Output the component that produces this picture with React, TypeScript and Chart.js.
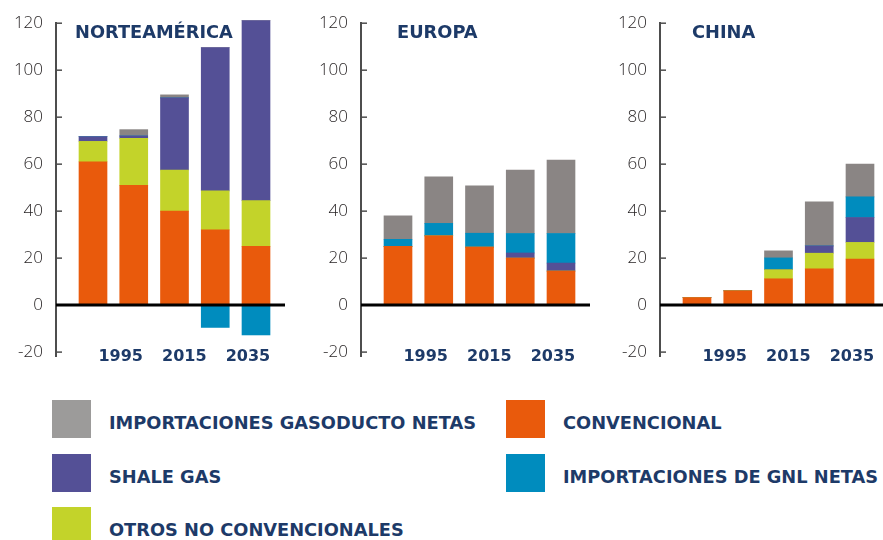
import React, { useEffect, useRef } from 'react';
import { Chart, registerables } from 'chart.js';

Chart.register(...registerables);

// ---- data ----
const periods = [0, 1, 2, 3, 4]; // bar positions (category index)
const yearTickLabels = [1995, 2015, 2035];
const valueTicks = [-20, 0, 20, 40, 60, 80, 100, 120];

const seriesNames = [
  'CONVENCIONAL',
  'OTROS NO CONVENCIONALES',
  'SHALE GAS',
  'IMPORTACIONES DE GNL NETAS',
  'IMPORTACIONES GASODUCTO NETAS',
];
const seriesColors = ['#E95A0C', '#C3D32A', '#545096', '#008CBE', '#8A8584'];

// Norteamérica
const naConvencional = [61, 51, 40, 32, 25];
const naOtros = [8.7, 20, 17.5, 16.6, 19.5];
const naShale = [2, 1, 30.7, 61, 76.6];
const naGnl = [0, 0, 0, -9.5, -12.7];
const naGasoducto = [0, 2.7, 1.3, 0, 0];

// Europa
const euConvencional = [25, 29.5, 24.7, 20, 14.5];
const euOtros = [0, 0, 0, 0, 0];
const euShale = [0, 0, 0, 2.2, 3.4];
const euGnl = [3, 5.3, 5.9, 8.3, 12.6];
const euGasoducto = [10, 19.8, 20.2, 27, 31.2];

// China
const cnConvencional = [3.2, 6.1, 11.2, 15.4, 19.6];
const cnOtros = [0, 0, 3.9, 6.7, 7.1];
const cnShale = [0, 0, 0, 3.1, 10.6];
const cnGnl = [0, 0, 5, 0, 8.8];
const cnGasoducto = [0, 0, 3, 18.8, 13.9];

// legend layout (rows, two columns)
const legendItems = [
  { name: 'IMPORTACIONES GASODUCTO NETAS', color: '#9C9B9A', col: 0, row: 0 },
  { name: 'CONVENCIONAL', color: '#E95A0C', col: 1, row: 0 },
  { name: 'SHALE GAS', color: '#545096', col: 0, row: 1 },
  { name: 'IMPORTACIONES DE GNL NETAS', color: '#008CBE', col: 1, row: 1 },
  { name: 'OTROS NO CONVENCIONALES', color: '#C3D32A', col: 0, row: 2 },
];

const NAVY = '#1D3A68';
const AXIS_GREY = '#4D4D4D';
const BAR_STEP = 40.75; // px per bar slot
const FIRST_BAR = 37; // px from axis to first bar centre
const PX_PER_YEAR = 3.18;
const YEAR_REF_OFFSET = 64.7; // px from axis to 1995 label
const CANVAS_H = 380;

type Panel = {
  title: string;
  values: number[][];
  left: number;
  width: number;
  axisX: number;
  titleDx: number;
};

const panels: Panel[] = [
  { title: 'NORTEAMÉRICA', values: [naConvencional, naOtros, naShale, naGnl, naGasoducto], left: 0, width: 300, axisX: 56, titleDx: 19 },
  { title: 'EUROPA', values: [euConvencional, euOtros, euShale, euGnl, euGasoducto], left: 300, width: 300, axisX: 61, titleDx: 36 },
  { title: 'CHINA', values: [cnConvencional, cnOtros, cnShale, cnGnl, cnGasoducto], left: 600, width: 283, axisX: 60, titleDx: 32 },
];

function PanelChart({ panel }: { panel: Panel }) {
  const ref = useRef<HTMLCanvasElement | null>(null);

  useEffect(() => {
    if (!ref.current) return;
    const plotW = Math.min(229, panel.width - panel.axisX);
    const padRight = panel.width - panel.axisX - plotW;
    const yearMin = 1995 - YEAR_REF_OFFSET / PX_PER_YEAR;

    const decor = {
      id: 'panelDecor',
      afterDatasetsDraw(chart: any) {
        const { ctx, chartArea, scales } = chart;
        const y = scales.y;
        const yr = scales.yr;
        ctx.save();
        // inward tick marks on the value axis
        ctx.strokeStyle = AXIS_GREY;
        ctx.lineWidth = 1.5;
        valueTicks.forEach((v) => {
          const py = y.getPixelForValue(v);
          ctx.beginPath();
          ctx.moveTo(chartArea.left, py);
          ctx.lineTo(chartArea.left + 6, py);
          ctx.stroke();
        });
        // zero line
        const y0 = y.getPixelForValue(0);
        ctx.strokeStyle = '#000000';
        ctx.lineWidth = 3;
        ctx.beginPath();
        ctx.moveTo(chartArea.left, y0);
        ctx.lineTo(chartArea.right, y0);
        ctx.stroke();
        // panel title
        ctx.fillStyle = NAVY;
        ctx.font = 'bold 17.8px "DejaVu Sans"';
        ctx.textBaseline = 'middle';
        ctx.textAlign = 'left';
        ctx.fillText(panel.title, chartArea.left + panel.titleDx, 33);
        // year tick labels, placed by the year scale
        ctx.font = 'bold 16px "DejaVu Sans"';
        ctx.textAlign = 'center';
        yearTickLabels.forEach((yv) => {
          ctx.fillText(String(yv), yr.getPixelForValue(yv), 357);
        });
        ctx.restore();
      },
    };

    const chart = new Chart(ref.current, {
      type: 'bar',
      data: {
        labels: periods,
        datasets: seriesNames.map((name, k) => ({
          label: name,
          data: panel.values[k],
          backgroundColor: seriesColors[k],
          borderWidth: 0,
          barThickness: 28,
          clip: false as any,
          xAxisID: 'x',
          yAxisID: 'y',
        })),
      },
      options: {
        animation: false,
        responsive: false,
        maintainAspectRatio: false,
        layout: { padding: { top: 21, right: padRight, left: 0, bottom: CANVAS_H - 357.75 } },
        plugins: { legend: { display: false }, tooltip: { enabled: false } },
        scales: {
          x: {
            type: 'linear',
            stacked: true,
            display: false,
            offset: false,
            min: -FIRST_BAR / BAR_STEP,
            max: (plotW - FIRST_BAR) / BAR_STEP,
          },
          yr: {
            type: 'linear',
            position: 'bottom',
            display: false,
            offset: false,
            grid: { offset: false },
            min: yearMin,
            max: yearMin + plotW / PX_PER_YEAR,
          },
          y: {
            type: 'linear',
            stacked: true,
            min: -22,
            max: 120,
            afterBuildTicks: (s: any) => {
              s.ticks = valueTicks.map((v) => ({ value: v }));
            },
            afterFit: (s: any) => {
              s.width = panel.axisX;
            },
            grid: { display: false, drawTicks: false },
            border: { display: true, color: AXIS_GREY, width: 2 },
            ticks: {
              padding: 13,
              color: '#231F20',
              font: { family: '"Open Sans"', size: 17, weight: '300' as any },
              callback: (v: any) => String(v),
            },
          },
        } as any,
      },
      plugins: [decor],
    } as any);

    return () => chart.destroy();
  }, [panel]);

  return (
    <canvas
      ref={ref}
      width={panel.width}
      height={CANVAS_H}
      style={{ position: 'absolute', left: panel.left, top: 0, width: panel.width, height: CANVAS_H }}
    />
  );
}

const legendCols = [52, 506];
const legendRows = [400, 454, 507];

export default function App() {
  return (
    <div
      style={{
        position: 'absolute',
        left: 0,
        top: 0,
        width: 883,
        height: 540,
        overflow: 'hidden',
        background: '#ffffff',
      }}
    >
      {panels.map((p) => (
        <PanelChart key={p.title} panel={p} />
      ))}
      {legendItems.map((it) => (
        <React.Fragment key={it.name}>
          <div
            style={{
              position: 'absolute',
              left: legendCols[it.col],
              top: legendRows[it.row],
              width: 39,
              height: 38,
              background: it.color,
            }}
          />
          <div
            style={{
              position: 'absolute',
              left: legendCols[it.col] + 57,
              top: legendRows[it.row] + 3,
              height: 38,
              display: 'flex',
              alignItems: 'center',
              whiteSpace: 'nowrap',
              fontFamily: '"DejaVu Sans"',
              fontWeight: 'bold',
              fontSize: 17.8,
              color: NAVY,
            }}
          >
            {it.name}
          </div>
        </React.Fragment>
      ))}
    </div>
  );
}
